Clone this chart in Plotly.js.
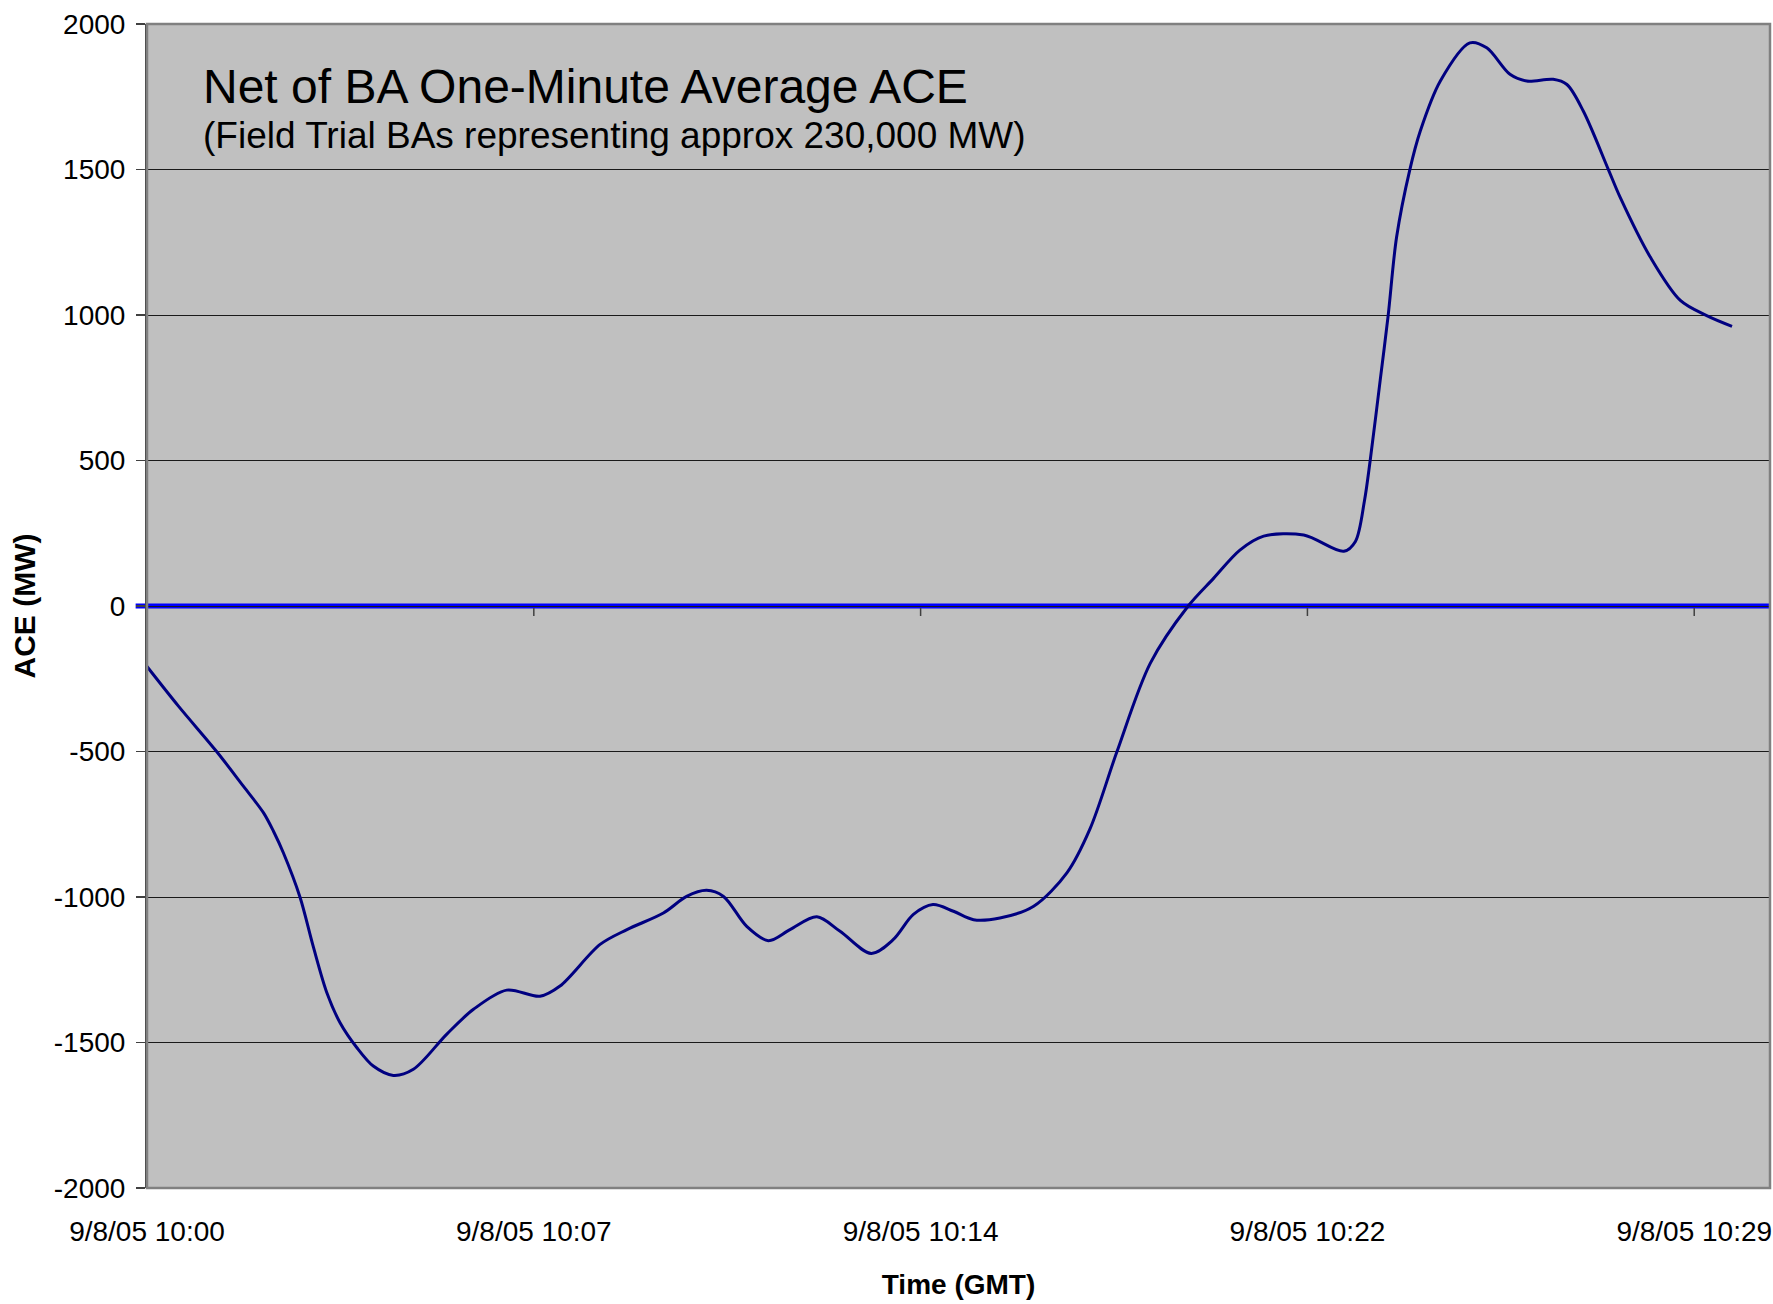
<!DOCTYPE html>
<html>
<head>
<meta charset="utf-8">
<script src="https://cdn.plot.ly/plotly-3.0.1.min.js"></script>
<style>html,body{margin:0;padding:0;background:#fff;}#chart{width:1773px;height:1304px;}</style>
</head>
<body>
<div id="chart"></div>
<script>
// Minutes after 9/8/05 10:00 GMT
const minutes = [0, 0.6, 1.32, 1.83, 2.21, 2.40, 2.585, 2.90, 3.15, 3.41, 3.66, 3.98, 4.29, 4.67, 5.05, 5.68, 6.19, 6.82, 7.45, 7.83, 8.59, 9.10, 9.79, 10.23, 10.61, 10.93, 11.37, 11.78, 12.19, 12.70, 13.14, 13.73, 14.15, 14.53, 14.90, 15.29, 15.67, 16.17, 16.81, 17.44, 17.88, 18.39, 19.02, 19.74, 20.22, 20.72, 21.17, 21.93, 22.69, 22.91, 23.08, 23.19, 23.38, 23.53, 23.69, 23.94, 24.14, 24.52, 25.08, 25.40, 25.84, 26.16, 26.66, 26.92, 27.23, 27.71, 27.93, 28.50, 29.07, 29.58, 30.05];
// ACE in MW
const aceMW = [-208, -345, -500, -620, -711, -775, -848, -1000, -1169, -1329, -1432, -1518, -1581, -1613, -1592, -1472, -1386, -1320, -1341, -1306, -1163, -1112, -1055, -998, -977, -998, -1101, -1150, -1112, -1068, -1118, -1194, -1146, -1060, -1026, -1049, -1078, -1072, -1032, -917, -765, -500, -197, 0, 95, 192, 240, 244, 188, 222, 360, 500, 776, 997, 1267, 1498, 1632, 1804, 1935, 1918, 1827, 1804, 1810, 1792, 1701, 1498, 1404, 1199, 1050, 997, 961];

const xTickVals = [0, 22/3, 44/3, 22, 88/3];
const xTickText = ["9/8/05 10:00", "9/8/05 10:07", "9/8/05 10:14", "9/8/05 10:22", "9/8/05 10:29"];
const yTickVals = [-2000, -1500, -1000, -500, 0, 500, 1000, 1500, 2000];
const yTickText = ["-2000", "-1500", "-1000", "-500", "0", "500", "1000", "1500", "2000"];
const xRange = [0, 30.77];
const yRange = [-2000, 2000];

const FONT = "'Liberation Sans', Arial, sans-serif";

const trace = {
  x: minutes, y: aceMW, type: "scatter", mode: "lines",
  line: {color: "#000080", width: 3, shape: "spline", smoothing: 0.9},
  hoverinfo: "skip", showlegend: false
};

const shapes = [];
// zero (axis) line in blue
shapes.push({type: "line", xref: "paper", yref: "y", x0: -0.007, x1: 1, y0: 0, y1: 0,
  line: {color: "#0000FF", width: 5}, layer: "below"});
// tick marks hanging from the zero line
xTickVals.slice(1).forEach(v => {
  shapes.push({type: "line", xref: "x", yref: "y", ysizemode: "pixel", yanchor: 0,
    x0: v, x1: v, y0: -2, y1: -10, line: {color: "#404040", width: 1.5}, layer: "above"});
});
// plot frame
shapes.push({type: "rect", xref: "paper", yref: "paper", x0: 0, x1: 1, y0: 0, y1: 1,
  line: {color: "#808080", width: 2.5}, fillcolor: "rgba(0,0,0,0)", layer: "above"});

const layout = {
  width: 1773, height: 1304,
  margin: {l: 147, r: 3, t: 24, b: 116, pad: 0},
  paper_bgcolor: "#ffffff", plot_bgcolor: "#C0C0C0",
  font: {family: FONT, color: "#000", size: 28},
  showlegend: false,
  xaxis: {
    range: xRange, tickmode: "array", tickvals: xTickVals, ticktext: xTickText,
    showgrid: false, zeroline: false, showline: false, ticks: "",
    ticklabelstandoff: 24,
    tickfont: {family: FONT, size: 28, color: "#000"},
    title: {text: "<b>Time (GMT)</b>", font: {family: FONT, size: 28, color: "#000"}, standoff: 28}
  },
  yaxis: {
    range: yRange, tickmode: "array", tickvals: yTickVals, ticktext: yTickText,
    showgrid: true, gridcolor: "#1a1a1a", gridwidth: 1, zeroline: false,
    showline: true, linecolor: "#404040", linewidth: 2,
    ticks: "outside", ticklen: 9, tickcolor: "#404040", tickwidth: 1.5,
    ticklabelstandoff: 5,
    tickfont: {family: FONT, size: 28, color: "#000"},
    title: {text: "<b>ACE (MW)</b>", font: {family: FONT, size: 30, color: "#000"}, standoff: 9}
  },
  shapes: shapes,
  annotations: [
    {xref: "paper", yref: "paper", x: 0.0334, y: 0.9467, xanchor: "left", yanchor: "middle",
     text: "Net of BA One-Minute Average ACE", showarrow: false,
     font: {family: FONT, size: 48, color: "#000"}},
    {xref: "paper", yref: "paper", x: 0.0334, y: 0.9038, xanchor: "left", yanchor: "middle",
     text: "(Field Trial BAs representing approx 230,000 MW)", showarrow: false,
     font: {family: FONT, size: 37, color: "#000"}}
  ]
};

Plotly.newPlot("chart", [trace], layout, {staticPlot: true, displayModeBar: false});
</script>
</body>
</html>
